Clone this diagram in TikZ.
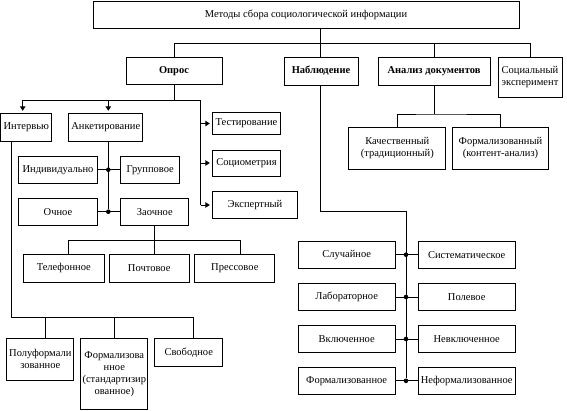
\documentclass[tikz,border=0pt]{standalone}
\usepackage{fontspec}
\setmainfont{Liberation Serif}
\newfontfamily\diagfont{Liberation Serif}
\usetikzlibrary{arrows.meta, positioning}
\tikzstyle{block} = [draw, rectangle, align=center, inner sep=1pt, line width=1pt, font=\diagfont\fontsize{10.5}{12}\selectfont]
\tikzstyle{heading} = [block, font=\diagfont\fontsize{10.5}{12}\selectfont\bfseries]
\tikzstyle{line} = [line width=1pt]
\tikzstyle{arrow} = [line width=1pt, -{Triangle[length=4.5pt,width=5.5pt]}, shorten >=2pt]
\tikzstyle{dot} = [circle, fill, inner sep=0pt, minimum size=4.6pt]

\begin{document}
\begin{tikzpicture}[x=1pt, y=-1pt]
    \useasboundingbox (0,0) rectangle (567,410);
    % top level
    \node [block, minimum width=426pt, minimum height=27pt] (methods) at (306,14.5) {Методы сбора социологической информации};
    \node [heading, minimum width=96pt, minimum height=27pt] (opros) at (174,70.7) {Опрос};
    \node [heading, minimum width=74pt, minimum height=28pt] (nabl) at (321,71) {Наблюдение};
    \node [heading, minimum width=112pt, minimum height=28pt] (analiz) at (434,71) {Анализ документов};
    \node [block, minimum width=64pt, minimum height=40pt] (social) at (530,77) {Социальный\\эксперимент};
    \node [block, minimum width=96.7pt, minimum height=42pt] (kach) at (397.3,148.3) {Качественный\\(традиционный)};
    \node [block, minimum width=96.4pt, minimum height=42pt] (formcont) at (500.5,148.3) {Формализованный\\(контент-анализ)};
    % survey
    \node [block, minimum width=51pt, minimum height=28.4pt] (interview) at (26.3,127.5) {Интервью};
    \node [block, minimum width=73.7pt, minimum height=28.4pt] (anket) at (105.8,127.5) {Анкетирование};
    \node [block, minimum width=68.4pt, minimum height=21.6pt] (test) at (246.5,123.5) {Тестирование};
    \node [block, minimum width=68.4pt, minimum height=26pt] (sociom) at (246.5,163) {Социометрия};
    \node [block, minimum width=85.4pt, minimum height=26.6pt] (expert) at (255,205) {Экспертный};
    \node [block, minimum width=79.4pt, minimum height=27.3pt] (indiv) at (58,169.7) {Индивидуально};
    \node [block, minimum width=58.7pt, minimum height=27.3pt] (group) at (150.3,169.7) {Групповое};
    \node [block, minimum width=79.4pt, minimum height=26.7pt] (ochn) at (58,211.7) {Очное};
    \node [block, minimum width=67.7pt, minimum height=26.7pt] (zaoch) at (154.8,211.7) {Заочное};
    \node [block, minimum width=81pt, minimum height=28pt] (tel) at (63.8,268.3) {Телефонное};
    \node [block, minimum width=79.7pt, minimum height=28pt] (pocht) at (149.2,268.3) {Почтовое};
    \node [block, minimum width=79.7pt, minimum height=28pt] (press) at (234.8,268.3) {Прессовое};
    \node [block, minimum width=67.3pt, minimum height=41.7pt] (polu) at (40.3,359.2) {Полуформали\\зованное};
    \node [block, minimum width=66.7pt, minimum height=70.5pt] (formst) at (114.3,373.8) {Формализова\\нное\\(стандартизир\\ованное)};
    \node [block, minimum width=67.7pt, minimum height=28pt] (svob) at (188.8,352.3) {Свободное};
    % observation
    \node [block, minimum width=96.7pt, minimum height=27pt] (rand) at (346.7,254.7) {Случайное};
    \node [block, minimum width=96.7pt, minimum height=27pt] (syst) at (466.7,254.7) {Систематическое};
    \node [block, minimum width=96.7pt, minimum height=27pt] (lab) at (346.7,297) {Лабораторное};
    \node [block, minimum width=96.7pt, minimum height=27pt] (field) at (466.7,297) {Полевое};
    \node [block, minimum width=96.7pt, minimum height=27pt] (incl) at (346.7,339) {Включенное};
    \node [block, minimum width=96.7pt, minimum height=27pt] (nonincl) at (466.7,339) {Невключенное};
    \node [block, minimum width=96.7pt, minimum height=27pt] (form) at (346.7,380.8) {Формализованное};
    \node [block, minimum width=96.7pt, minimum height=27pt] (nonform) at (466.7,380.8) {Неформализованное};

    % joints
    \coordinate (mbus) at (320.7,43);
    \coordinate (abus) at (434,114);
    \coordinate (ia) at (22.7,100);
    \coordinate (aa) at (108.3,100);
    \coordinate (ra) at (200.7,100);
    \coordinate (zb) at (154,240.7);
    \coordinate (ib) at (11.7,317.3);
    \coordinate (nb) at (406,211.7);
    \node [dot] (d1) at (108.3,169.7) {};
    \node [dot] (d2) at (108.3,211.7) {};
    \node [dot] (n1) at (406,254.7) {};
    \node [dot] (n2) at (406,297) {};
    \node [dot] (n3) at (406,339) {};
    \node [dot] (n4) at (406,380.8) {};

    % top level lines
    \draw [line] (mbus |- methods.south) -- (mbus |- nabl.north);
    \draw [line] (opros.north) |- (social.north |- mbus) -- (social.north);
    \draw [line] (analiz.north) -- (analiz.north |- mbus);
    \draw [line] (analiz.south) -- (abus);
    \draw [line] (kach.north) |- (abus) -| (formcont.north);
    % survey lines
    \draw [line] (opros.south) -- (opros.south |- ra);
    \draw [line] (ia) -- (ra) -- (ra |- expert.west);
    \draw [arrow] (ia) -- (ia |- interview.north);
    \draw [arrow] (aa) -- (aa |- anket.north);
    \draw [arrow] (ra |- test.west) -- (test.west);
    \draw [arrow] (ra |- sociom.west) -- (sociom.west);
    \draw [arrow] (ra |- expert.west) -- (expert.west);
    \draw [line] (aa |- anket.south) -- (d2);
    \draw [line] (indiv.east) -- (group.west);
    \draw [line] (ochn.east) -- (zaoch.west);
    \draw [line] (zb |- zaoch.south) -- (zb);
    \draw [line] ([xshift=4.5pt]tel.north) |- (zb) -| ([xshift=5.5pt]press.north);
    \draw [line] (zb) -- (zb |- pocht.north);
    \draw [line] (ib |- interview.south) -- (ib) -| ([xshift=5pt]svob.north);
    \draw [line] ([xshift=5.4pt]polu.north) -- ([xshift=5.4pt]polu.north |- ib);
    \draw [line] (formst.north) -- (formst.north |- ib);
    % observation lines
    \draw [line] (mbus |- nabl.south) |- (nb) -- (n4);
    \draw [line] (rand.east) -- (syst.west);
    \draw [line] (lab.east) -- (field.west);
    \draw [line] (incl.east) -- (nonincl.west);
    \draw [line] (form.east) -- (nonform.west);
\end{tikzpicture}
\end{document}
